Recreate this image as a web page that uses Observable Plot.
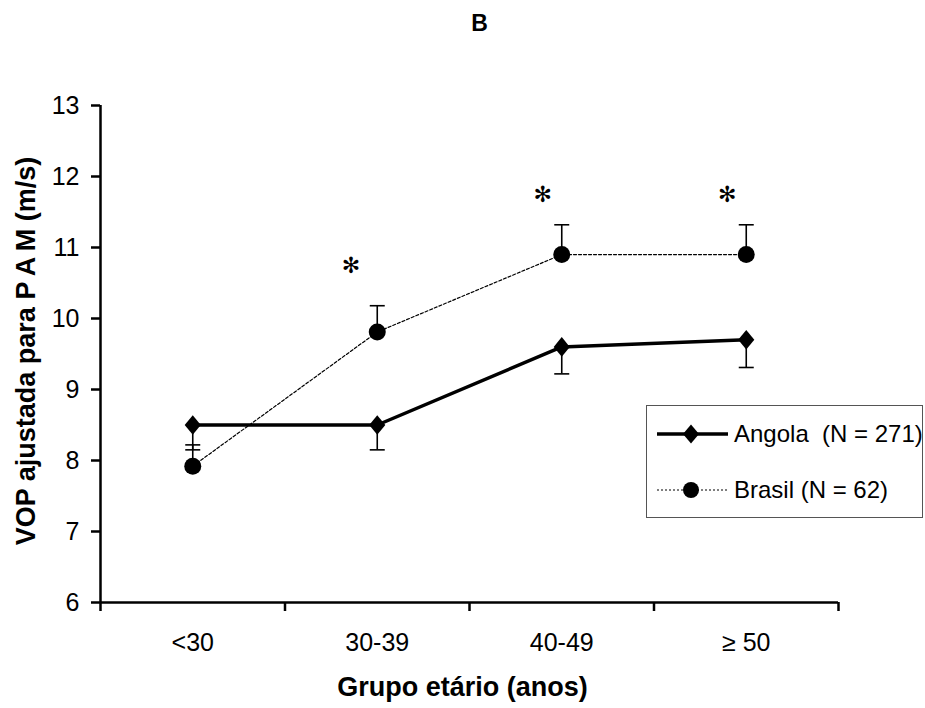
<!DOCTYPE html>
<html>
<head>
<meta charset="utf-8">
<script src="https://cdn.jsdelivr.net/npm/d3@7"></script>
<script src="https://cdn.jsdelivr.net/npm/@observablehq/plot@0.6"></script>
<style>
  body { margin: 0; background: #fff; }
  #chart { position: relative; width: 925px; height: 708px; font-family: "Liberation Sans", Arial, sans-serif; }
  #chart svg { overflow: visible; }
  .legend { position: absolute; left: 646px; top: 405px; width: 277px; height: 113px;
            border: 1.5px solid #555; box-sizing: border-box; background: #fff; }
  .legend svg text { font-family: "Liberation Sans", Arial, sans-serif; font-size: 24px; white-space: pre; }
</style>
</head>
<body>
<div id="chart"></div>
<script>
// Age groups and adjusted PWV (m/s) per cohort
const groups = ["<30", "30-39", "40-49", "≥ 50"];
const angola = [8.5, 8.5, 9.6, 9.7];
const angolaErr = [0.35, 0.35, 0.38, 0.39];   // drawn downward
const brasil = [7.92, 9.81, 10.9, 10.9];
const brasilErr = [0.3, 0.37, 0.42, 0.42];    // drawn upward
const seriesNames = ["Angola  (N = 271)", "Brasil (N = 62)"];
// significance markers (x in group units, y in m/s)
const starX = [1.357, 2.397, 3.397];
const starY = [10.76, 11.76, 11.75];
const yTicks = [6, 7, 8, 9, 10, 11, 12, 13];
const xBounds = [0, 1, 2, 3, 4];

const angolaRows = groups.map((g, i) => ({x: i + 0.5, v: angola[i], lo: angola[i] - angolaErr[i]}));
const brasilRows = groups.map((g, i) => ({x: i + 0.5, v: brasil[i], hi: brasil[i] + brasilErr[i]}));
const stars = starX.map((x, i) => ({x, y: starY[i]}));

// custom symbols: horizontal cap, slightly tall diamond
const capSymbol = {draw(ctx, size) { const r = Math.sqrt(size / Math.PI); ctx.moveTo(-r, 0); ctx.lineTo(r, 0); }};
const diamondSymbol = {draw(ctx, size) {
  const r = Math.sqrt(size / Math.PI);
  ctx.moveTo(0, -r * 1.15); ctx.lineTo(r * 0.95, 0); ctx.lineTo(0, r * 1.15); ctx.lineTo(-r * 0.95, 0); ctx.closePath();
}};

const font = "Liberation Sans, Arial, sans-serif";

const chart = Plot.plot({
  width: 925,
  height: 708,
  marginTop: 105,
  marginBottom: 106,
  marginLeft: 100,
  marginRight: 87,
  style: {fontFamily: font, fontSize: "25px", color: "#000", background: "#fff"},
  x: {type: "linear", domain: [0, 4], axis: null},
  y: {domain: [6, 13], axis: null},
  marks: [
    // axes
    Plot.axisY({ticks: yTicks, tickSize: 9, tickPadding: 12, fontSize: 25, tickFormat: d3.format("d"), strokeWidth: 2.5, label: null}),
    Plot.axisX({ticks: xBounds, tickSize: 9, tickFormat: () => "", strokeWidth: 2.5, label: null}),
    Plot.axisX({ticks: groups.map((g, i) => i + 0.5), tickSize: 0, tickPadding: 31, fontSize: 25,
                tickFormat: d => groups[Math.round(d - 0.5)], label: null}),
    Plot.ruleX([0], {y1: 6, y2: 13, strokeWidth: 2.5}),
    Plot.ruleY([6], {x1: 0, x2: 4, strokeWidth: 2.5}),

    // error bars
    Plot.ruleX(angolaRows, {x: "x", y1: "v", y2: "lo", strokeWidth: 1.6}),
    Plot.dot(angolaRows, {x: "x", y: "lo", symbol: capSymbol, r: 7.5, stroke: "#000", fill: "none", strokeWidth: 1.6}),
    Plot.ruleX(brasilRows, {x: "x", y1: "v", y2: "hi", strokeWidth: 1.6}),
    Plot.dot(brasilRows, {x: "x", y: "hi", symbol: capSymbol, r: 7.5, stroke: "#000", fill: "none", strokeWidth: 1.6}),

    // series
    Plot.line(brasilRows, {x: "x", y: "v", stroke: "#000", strokeWidth: 1.2, strokeDasharray: "3,2"}),
    Plot.line(angolaRows, {x: "x", y: "v", stroke: "#000", strokeWidth: 3.5}),
    Plot.dot(brasilRows, {x: "x", y: "v", r: 8.5, fill: "#000", stroke: "none"}),
    Plot.dot(angolaRows, {x: "x", y: "v", symbol: diamondSymbol, r: 8.5, fill: "#000", stroke: "none"}),

    // significance
    Plot.text(stars, {x: "x", y: "y", text: () => "\u273B", fontFamily: "DejaVu Sans, sans-serif",
                      fontSize: 22, lineAnchor: "middle", dy: 1}),

    // titles
    Plot.text(["B"], {frameAnchor: "top", text: d => d, fontSize: 23, fontWeight: "bold", dx: 10, dy: -75, lineAnchor: "bottom"}),
    Plot.text(["VOP ajustada para P\u2009A\u2009M (m/s)"], {frameAnchor: "left", text: d => d, rotate: -90, fontSize: 27,
                fontWeight: "bold", dx: -74, dy: -3, textAnchor: "middle", lineAnchor: "middle"}),
    Plot.text(["Grupo etário (anos)"], {frameAnchor: "bottom", text: d => d, fontSize: 27, fontWeight: "bold",
                dx: -7, dy: 85, lineAnchor: "middle"})
  ]
});

const root = document.getElementById("chart");
root.appendChild(chart);

// legend box
const legend = document.createElement("div");
legend.className = "legend";
const rowY = [28, 84];
legend.innerHTML = `<svg width="277" height="113">
  <line x1="10" x2="81" y1="${rowY[0]}" y2="${rowY[0]}" stroke="#000" stroke-width="3.5"/>
  <path d="M44,${rowY[0] - 9.5} L52,${rowY[0]} L44,${rowY[0] + 9.5} L36,${rowY[0]} Z" fill="#000"/>
  <text x="87" y="${rowY[0]}" dy="0.35em">${seriesNames[0]}</text>
  <line x1="10" x2="81" y1="${rowY[1]}" y2="${rowY[1]}" stroke="#000" stroke-width="1.2" stroke-dasharray="2,2"/>
  <circle cx="44" cy="${rowY[1]}" r="8" fill="#000"/>
  <text x="87" y="${rowY[1]}" dy="0.35em">${seriesNames[1]}</text>
</svg>`;
root.appendChild(legend);
</script>
</body>
</html>
